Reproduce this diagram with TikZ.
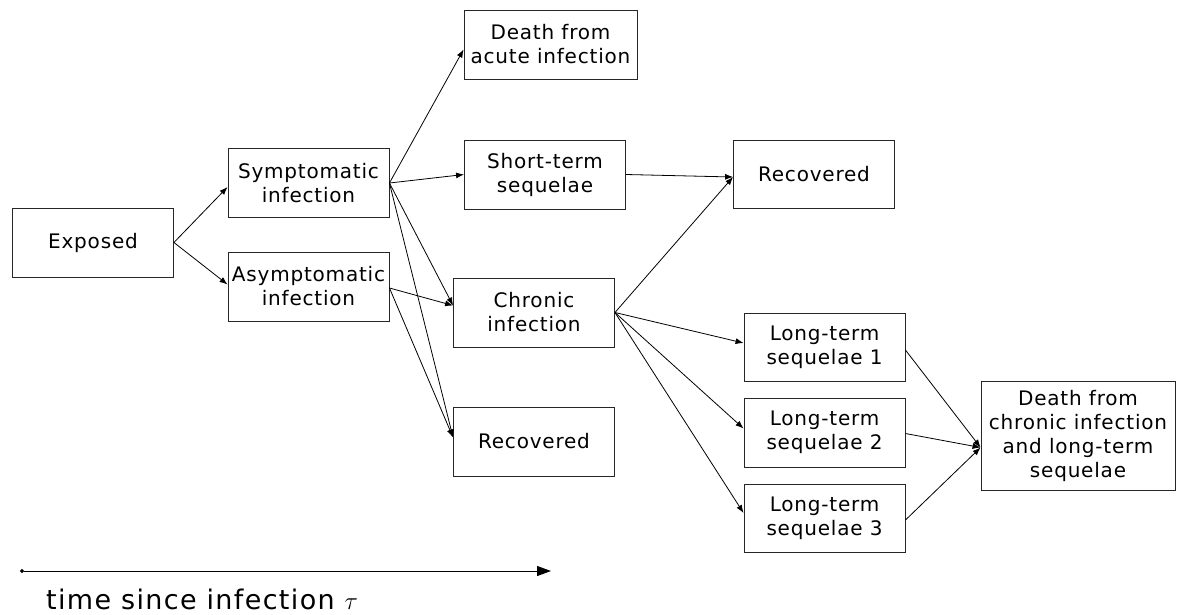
\documentclass[tikz,border=0pt]{standalone}
\usepackage{fontspec}
\setmainfont[LetterSpace=4]{DejaVu Sans}
\usetikzlibrary{arrows.meta}
\begin{document}
\begin{tikzpicture}[x=1pt,y=-1pt,
  box/.style={draw=black!85,line width=0.9pt,fill=white,align=center,inner sep=0pt,
    font=\fontsize{20}{24}\selectfont,minimum width=161pt,minimum height=69pt},
  arr/.style={draw=black,line width=0.8pt,-{Latex[length=8pt,width=6pt]}}]
\useasboundingbox (0,0) rectangle (1177,614);
\node[box] (exposed) at (93,242.5) {Exposed};
\node[box] (symp) at (308.5,183) {Symptomatic\\infection};
\node[box] (asymp) at (308.5,286.5) {Asymptomatic\\infection};
\node[box,minimum width=173pt] (deathA) at (550.5,44.5) {Death from\\acute infection};
\node[box] (shortT) at (545,174.5) {Short-term\\sequelae};
\node[box,minimum height=68pt] (recA) at (814,174) {Recovered};
\node[box] (chronic) at (534,312.5) {Chronic\\infection};
\node[box] (recB) at (534,441.5) {Recovered};
\node[box,minimum height=68pt] (lt1) at (824.5,347) {Long-term\\sequelae 1};
\node[box] (lt2) at (824.5,432.5) {Long-term\\sequelae 2};
\node[box,minimum height=68pt] (lt3) at (824.5,518) {Long-term\\sequelae 3};
\node[box,minimum width=194pt,minimum height=109pt] (deathC) at (1078,435.5)
  {Death from\\chronic infection\\and long-term\\sequelae};
\draw[arr] (exposed.east) -- ([yshift=-4pt]symp.west);
\draw[arr] (exposed.east) -- ([yshift=2pt]asymp.west);
\draw[arr] (symp.east) -- ([yshift=-5pt]deathA.west);
\draw[arr] (symp.east) -- (shortT.west);
\draw[arr] (symp.east) -- ([yshift=7pt]chronic.west);
\draw[arr] (symp.east) -- ([yshift=4pt]recB.west);
\draw[arr] ([yshift=-1.5pt]asymp.east) -- ([yshift=7pt]chronic.west);
\draw[arr] ([yshift=-1.5pt]asymp.east) -- ([yshift=4pt]recB.west);
\draw[arr] (shortT.east) -- ([yshift=-3pt]recA.west);
\draw[arr] (chronic.east) -- ([yshift=-3pt]recA.west);
\draw[arr] (chronic.east) -- ([yshift=4pt]lt1.west);
\draw[arr] (chronic.east) -- ([yshift=4pt]lt2.west);
\draw[arr] (chronic.east) -- ([yshift=5pt]lt3.west);
\draw[arr] ([yshift=-3pt]lt1.east) -- ([yshift=-12pt]deathC.west);
\draw[arr] ([yshift=-1pt]lt2.east) -- ([yshift=-12pt]deathC.west);
\draw[arr] ([yshift=-2pt]lt3.east) -- ([yshift=-12pt]deathC.west);
\coordinate (t0) at (20,571);
\coordinate (t1) at (551,571);
\draw[line width=1pt,{Circle[length=4pt]}-{Triangle[length=14pt,width=10pt]}] (t0) -- (t1);
\node[anchor=base west,inner sep=0pt,font=\fontsize{27}{30}\selectfont\addfontfeatures{LetterSpace=5}] (tlabel) at (46,609)
  {time since infection \addfontfeatures{LetterSpace=0}$\tau$};
\end{tikzpicture}
\end{document}
